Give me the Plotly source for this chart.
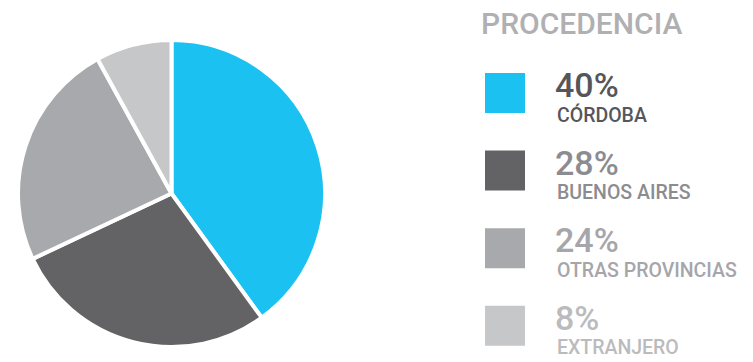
import plotly.graph_objects as go

categories = ["CÓRDOBA", "BUENOS AIRES", "OTRAS PROVINCIAS", "EXTRANJERO"]
values = [40, 28, 24, 8]
pct_labels = ["40%", "28%", "24%", "8%"]
slice_colors = ["#1BC1F1", "#636365", "#A8A9AC", "#C6C7C9"]
text_colors = ["#56565A", "#8C8C90", "#A6A6AA", "#BBBBBE"]
title_text = "PROCEDENCIA"

W, H = 753, 362
FONT = "Roboto"

fig = go.Figure()
fig.add_trace(go.Pie(
    labels=categories, values=values, sort=False, direction="clockwise", rotation=0,
    marker=dict(colors=slice_colors, line=dict(color="white", width=4)),
    textinfo="none", hoverinfo="label+percent", showlegend=False,
    domain=dict(x=[17 / W, 326 / W], y=[(H - 347) / H, (H - 40) / H]),
))

shapes = []
annotations = [dict(text=title_text, x=479 / W, y=1 - 23 / H, xref="paper", yref="paper",
                    xanchor="left", yanchor="middle", showarrow=False,
                    font=dict(family=FONT, size=30, color="#B0B0B3", weight=500))]
row0, step, sq = 73, 77.6, 40
for i, (cat, pct) in enumerate(zip(categories, pct_labels)):
    top = row0 + step * i
    shapes.append(dict(type="rect", xref="paper", yref="paper",
                       x0=485 / W, x1=(485 + sq) / W, y0=1 - (top + sq) / H, y1=1 - top / H,
                       fillcolor=slice_colors[i], line=dict(width=0)))
    annotations.append(dict(text=pct, x=553 / W, y=1 - (top + 12) / H, xref="paper", yref="paper",
                            xanchor="left", yanchor="middle", showarrow=False,
                            font=dict(family=FONT, size=34, color=text_colors[i], weight=500)))
    annotations.append(dict(text=cat, x=555 / W, y=1 - (top + 42) / H, xref="paper", yref="paper",
                            xanchor="left", yanchor="middle", showarrow=False,
                            font=dict(family=FONT, size=19.5, color=text_colors[i], weight=500)))

fig.update_layout(width=W, height=H, margin=dict(l=0, r=0, t=0, b=0),
                  paper_bgcolor="white", plot_bgcolor="white",
                  shapes=shapes, annotations=annotations)
fig.write_html("out.html")
